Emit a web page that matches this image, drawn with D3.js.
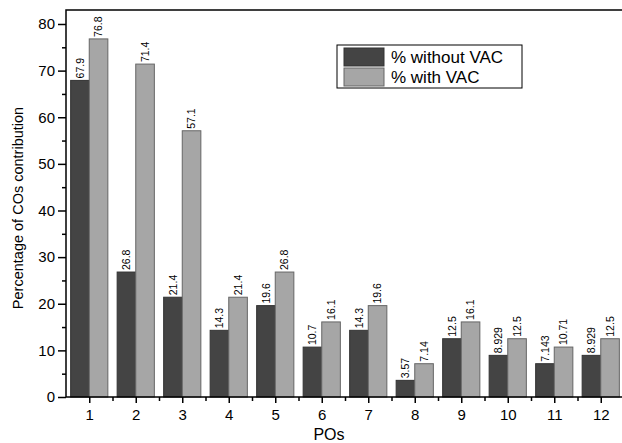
<!DOCTYPE html>
<html>
<head>
<meta charset="utf-8">
<script src="https://cdn.jsdelivr.net/npm/d3@7"></script>
<style>
  body { margin: 0; background: #fff; }
  svg text { font-family: Arial, "Liberation Sans", sans-serif; fill: #000; }
</style>
</head>
<body>
<div id="chart"></div>
<script>
var pos = ["1", "2", "3", "4", "5", "6", "7", "8", "9", "10", "11", "12"];
var withoutVac = [67.9, 26.8, 21.4, 14.3, 19.6, 10.7, 14.3, 3.57, 12.5, 8.929, 7.143, 8.929];
var withVac = [76.8, 71.4, 57.1, 21.4, 26.8, 16.1, 19.6, 7.14, 16.1, 12.5, 10.71, 12.5];
var yTicks = [0, 10, 20, 30, 40, 50, 60, 70, 80];
var seriesNames = ["% without VAC", "% with VAC"];

var margin = {top: 10, right: -2, bottom: 46, left: 66},
    width = 622 - margin.left - margin.right,
    height = 443 - margin.top - margin.bottom;

var x = d3.scaleLinear().domain([0.5, 12.5]).range([0, width]);
var y = d3.scaleLinear().domain([0, 83]).range([height, 0]);
var step = x(2) - x(1),
    barW = step * 0.4;

var svg = d3.select("#chart").append("svg")
    .attr("width", 622)
    .attr("height", 443)
    .append("g")
    .attr("transform", "translate(" + margin.left + "," + margin.top + ")");

// bars
var series = [
  {name: seriesNames[0], values: withoutVac, fill: "#444444", stroke: "#333333", off: -barW},
  {name: seriesNames[1], values: withVac, fill: "#a6a6a6", stroke: "#666666", off: 0}
];

series.forEach(function(s) {
  var g = svg.append("g");
  g.selectAll("rect")
    .data(s.values)
    .enter().append("rect")
    .attr("x", function(d, i) { return x(i + 1) + s.off; })
    .attr("y", function(d) { return y(d); })
    .attr("width", barW)
    .attr("height", function(d) { return y(0) - y(d); })
    .attr("fill", s.fill)
    .attr("stroke", s.stroke)
    .attr("stroke-width", 1);
  g.selectAll("text")
    .data(s.values)
    .enter().append("text")
    .attr("transform", function(d, i) {
      return "translate(" + (x(i + 1) + s.off + barW / 2 + 3.7) + "," + (y(d) - 2) + ") rotate(-90)";
    })
    .style("font-size", "10.5px")
    .text(function(d) { return d; });
});

// frame
svg.append("rect")
    .attr("x", 0).attr("y", 0)
    .attr("width", x(12.5)).attr("height", height)
    .attr("fill", "none").attr("stroke", "#000").attr("stroke-width", 1.5);

// y axis
var yAxis = d3.axisLeft(y).tickValues(yTicks).tickSize(8).tickPadding(3);
var gy = svg.append("g").call(yAxis);
var yMinor = d3.axisLeft(y).tickValues(d3.range(5, 85, 10)).tickSize(4).tickFormat("");
var gym = svg.append("g").call(yMinor);

// x axis
var xAxis = d3.axisBottom(x).tickValues(d3.range(1, 13)).tickFormat(function(d, i) { return pos[i]; }).tickSize(6).tickPadding(6);
var gx = svg.append("g").attr("transform", "translate(0," + height + ")").call(xAxis);
var xMinor = d3.axisBottom(x).tickValues(d3.range(1.5, 12.5, 1)).tickSize(4).tickFormat("");
var gxm = svg.append("g").attr("transform", "translate(0," + height + ")").call(xMinor);

[gy, gym, gx, gxm].forEach(function(g) {
  g.select(".domain").remove();
  g.selectAll("line").attr("stroke", "#000").attr("stroke-width", 1.5);
  g.selectAll("text").style("font-size", "15px").attr("font-family", null);
});

// axis titles
svg.append("text")
    .attr("transform", "translate(" + (-43) + "," + 198 + ") rotate(-90)")
    .attr("text-anchor", "middle")
    .style("font-size", "14.5px")
    .text("Percentage of COs contribution");

svg.append("text")
    .attr("x", 263)
    .attr("y", height + 43)
    .attr("text-anchor", "middle")
    .style("font-size", "16px")
    .text("POs");

// legend
var lg = svg.append("g").attr("transform", "translate(" + (337 - margin.left) + "," + (45 - margin.top) + ")");
lg.append("rect")
    .attr("width", 185).attr("height", 43)
    .attr("fill", "#fff").attr("stroke", "#000").attr("stroke-width", 1);
series.forEach(function(s, i) {
  lg.append("rect")
    .attr("x", 7).attr("y", 3 + i * 20)
    .attr("width", 40).attr("height", 18)
    .attr("fill", s.fill).attr("stroke", s.stroke);
  lg.append("text")
    .attr("x", 54).attr("y", 18 + i * 20)
    .style("font-size", "17px")
    .text(s.name);
});
</script>
</body>
</html>
